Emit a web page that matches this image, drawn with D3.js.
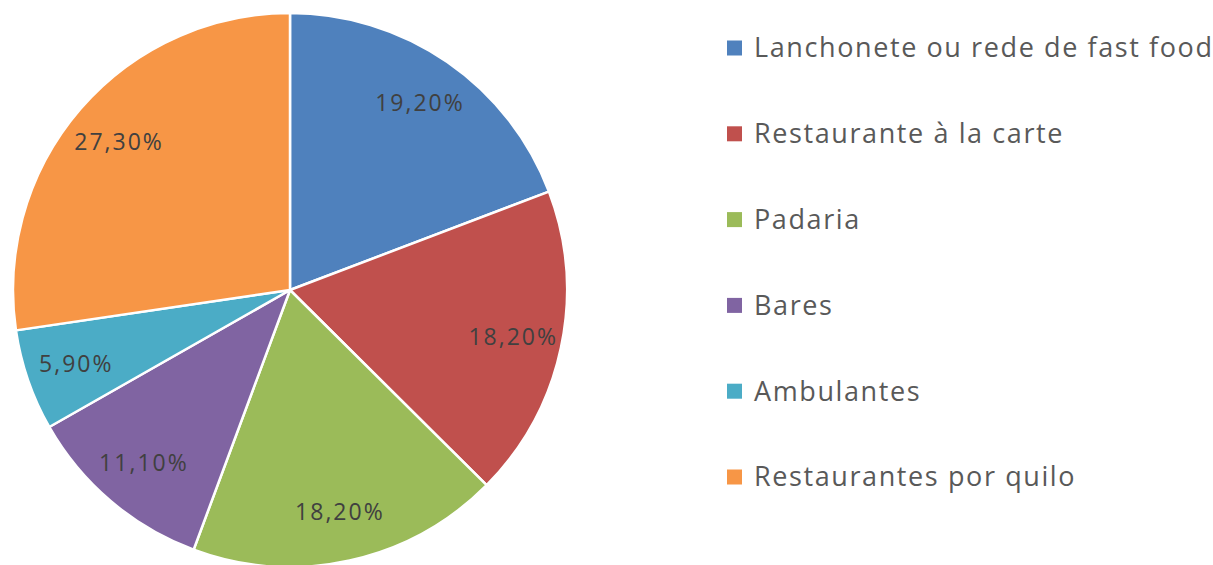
<!DOCTYPE html>
<html lang="pt">
<head>
    <meta charset="UTF-8">
    <title>Pie</title>
    <script src="https://cdn.jsdelivr.net/npm/d3@7"></script>
    <style>
        body { margin: 0; background: #fff; }
        text { font-family: "Open Sans", sans-serif; }
    </style>
</head>
<body>
<svg width="1213" height="565"></svg>
<script>
    var categories = ["Lanchonete ou rede de fast food", "Restaurante à la carte", "Padaria", "Bares", "Ambulantes", "Restaurantes por quilo"];
    var values = [19.2, 18.2, 18.2, 11.1, 5.9, 27.3];
    var labels = ["19,20%", "18,20%", "18,20%", "11,10%", "5,90%", "27,30%"];
    var colors = ["#4F81BD", "#C0504D", "#9BBB59", "#8064A2", "#4BACC6", "#F79646"];

    var svg = d3.select("svg"),
        cx = 290, cy = 290, radius = 277;

    var data = categories.map(function(c, i) { return {name: c, value: values[i], label: labels[i]}; });

    var pie = d3.pie().sort(null).value(function(d) { return d.value; });
    var arc = d3.arc().innerRadius(0).outerRadius(radius);
    var labelArc = d3.arc().innerRadius(radius * 0.82).outerRadius(radius * 0.82);

    var g = svg.append("g").attr("transform", "translate(" + cx + "," + cy + ")");

    g.selectAll("path")
        .data(pie(data))
        .enter().append("path")
        .attr("d", arc)
        .attr("fill", function(d, i) { return colors[i]; })
        .attr("stroke", "#fff")
        .attr("stroke-width", 2.5)
        .attr("stroke-linejoin", "round");

    g.selectAll(".lbl")
        .data(pie(data))
        .enter().append("text")
        .attr("class", "lbl")
        .attr("transform", function(d) { var c = labelArc.centroid(d); return "translate(" + (c[0] + 1) + "," + c[1] + ")"; })
        .attr("text-anchor", "middle")
        .attr("dy", "0.35em")
        .attr("font-size", 23)
        .attr("letter-spacing", 2)
        .attr("fill", "#404040")
        .text(function(d) { return d.data.label; });

    // legend
    var y = d3.scalePoint().domain(categories).range([48, 477]);
    var legend = svg.append("g").selectAll("g")
        .data(categories)
        .enter().append("g")
        .attr("transform", function(d) { return "translate(727," + y(d) + ")"; });

    legend.append("rect")
        .attr("x", 0).attr("y", -7.5)
        .attr("width", 15).attr("height", 15)
        .attr("fill", function(d, i) { return colors[i]; });

    legend.append("text")
        .attr("x", 27)
        .attr("dy", "0.35em")
        .attr("font-size", 27)
        .attr("letter-spacing", 1.6)
        .attr("fill", "#595959")
        .text(function(d) { return d; });
</script>
</body>
</html>
